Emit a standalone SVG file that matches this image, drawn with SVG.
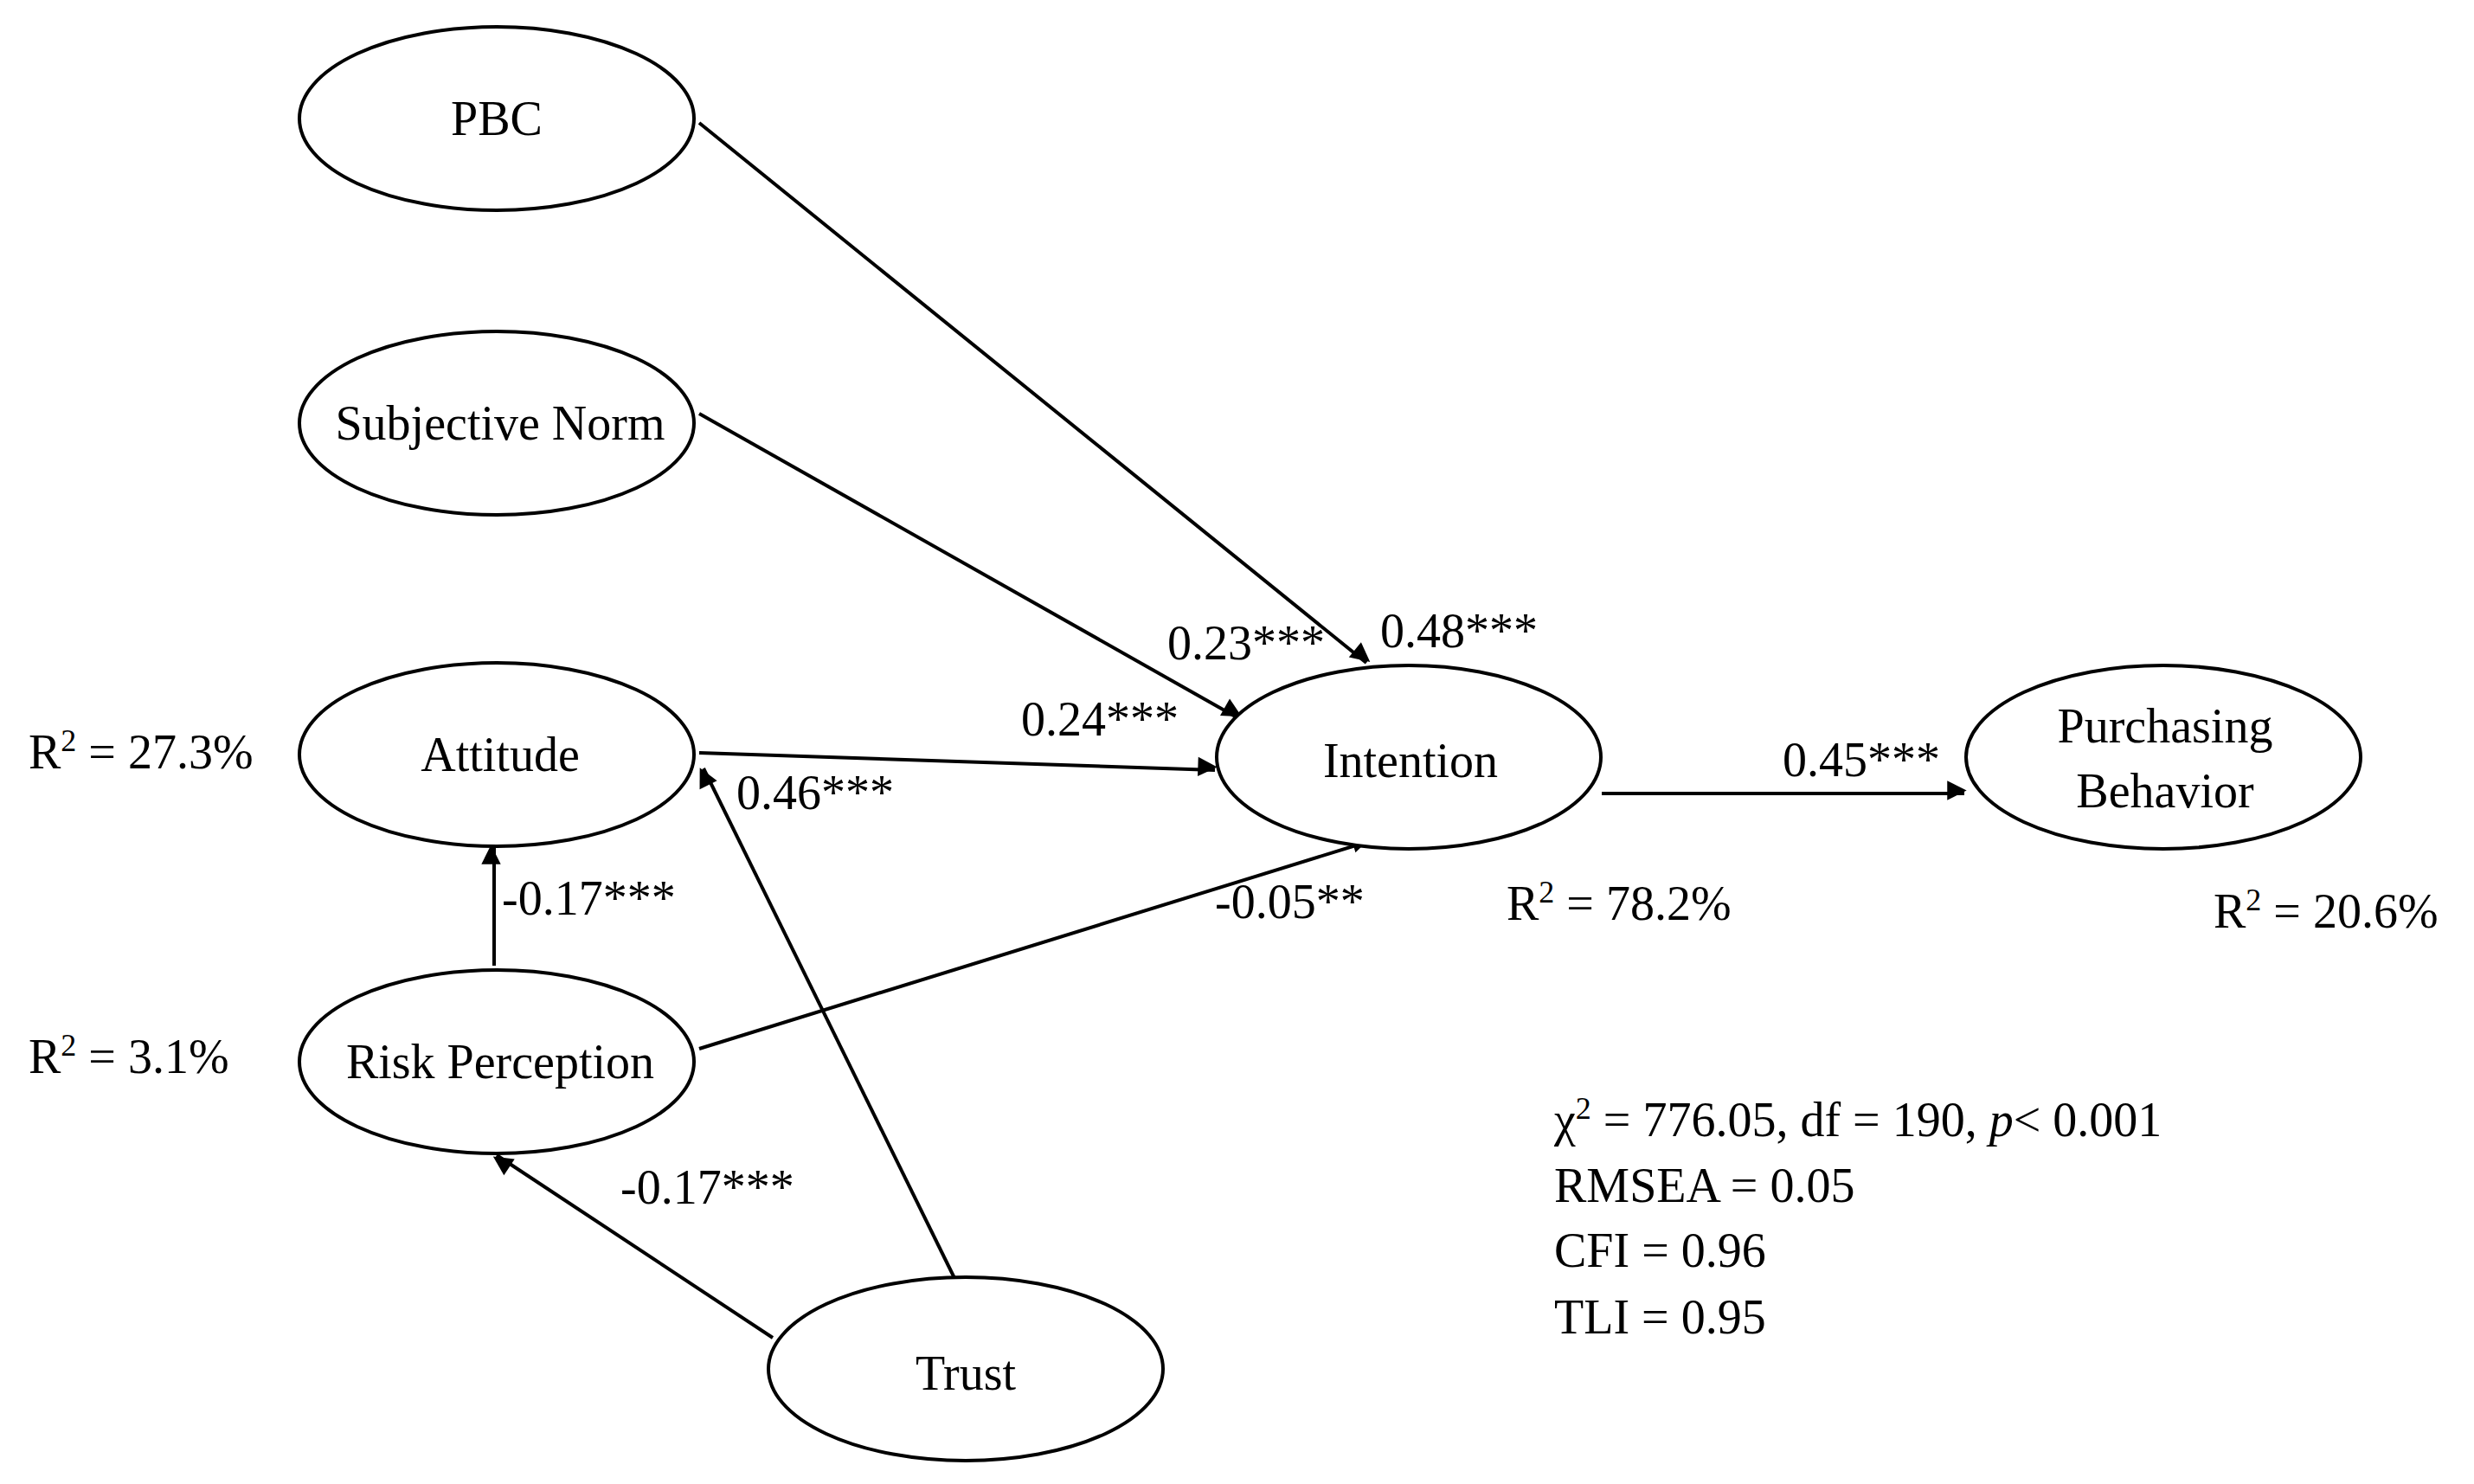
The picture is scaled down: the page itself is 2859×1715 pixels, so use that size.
<svg xmlns="http://www.w3.org/2000/svg" width="2859" height="1715" viewBox="0 0 2859 1715">
<style>
.n{fill:#fff;stroke:#000;stroke-width:4}
.t{font-family:"Liberation Serif",serif;font-size:56px;fill:#000}
.c line{stroke:#000;stroke-width:4;marker-end:url(#a)}
</style>
<defs><marker id="a" viewBox="0 0 10 10" refX="9" refY="5" markerWidth="7" markerHeight="7" orient="auto" markerUnits="userSpaceOnUse" style="overflow:visible"><path d="M0,0 L10,5 L0,10 z" transform="scale(3.2) translate(-6,-5) translate(0,5) translate(0,-5)"/></marker></defs>
<rect width="2859" height="1715" fill="#fff"/>
<g class="c">
<line x1="808" y1="142" x2="1579" y2="766"/>
<line x1="808" y1="478" x2="1431" y2="830"/>
<line x1="808" y1="870" x2="1404" y2="890"/>
<line x1="808" y1="1212" x2="1583" y2="972"/>
<line x1="1851" y1="917" x2="2270" y2="917"/>
<line x1="571" y1="1116" x2="571" y2="979"/>
<line x1="1103" y1="1477" x2="813" y2="888"/>
<line x1="893" y1="1546" x2="574" y2="1335"/>
</g>
<g id="pbc"><ellipse class="n" cx="574" cy="137" rx="228" ry="106"/><text class="t" x="574" y="156" text-anchor="middle">PBC</text></g>
<g id="sn"><ellipse class="n" cx="574" cy="489" rx="228" ry="106"/><text class="t" x="578" y="508" text-anchor="middle">Subjective Norm</text></g>
<g id="att"><ellipse class="n" cx="574" cy="872" rx="228" ry="106"/><text class="t" x="578" y="891" text-anchor="middle">Attitude</text></g>
<g id="rp"><ellipse class="n" cx="574" cy="1227" rx="228" ry="106"/><text class="t" x="578" y="1246" text-anchor="middle">Risk Perception</text></g>
<g id="trust"><ellipse class="n" cx="1116" cy="1582" rx="228" ry="106"/><text class="t" x="1116" y="1606" text-anchor="middle">Trust</text></g>
<g id="int"><ellipse class="n" cx="1628" cy="875" rx="222" ry="106"/><text class="t" x="1630" y="898" text-anchor="middle">Intention</text></g>
<g id="pb"><ellipse class="n" cx="2500" cy="875" rx="228" ry="106"/><text class="t" x="2502" y="858" text-anchor="middle">Purchasing</text><text class="t" x="2502" y="933" text-anchor="middle">Behavior</text></g>
<g class="t">
<text x="1349" y="762">0.23***</text>
<text x="1595" y="748">0.48***</text>
<text x="1180" y="850">0.24***</text>
<text x="851" y="935">0.46***</text>
<text x="2060" y="897">0.45***</text>
<text x="1404" y="1061">-0.05**</text>
<text x="580" y="1057">-0.17***</text>
<text x="717" y="1391">-0.17***</text>
<text x="33" y="888">R<tspan font-size="36" dy="-20">2</tspan><tspan dy="20"> = 27.3%</tspan></text>
<text x="33" y="1240">R<tspan font-size="36" dy="-20">2</tspan><tspan dy="20"> = 3.1%</tspan></text>
<text x="1741" y="1063">R<tspan font-size="36" dy="-20">2</tspan><tspan dy="20"> = 78.2%</tspan></text>
<text x="2558" y="1072">R<tspan font-size="36" dy="-20">2</tspan><tspan dy="20"> = 20.6%</tspan></text>
<text x="1796" y="1313">χ<tspan font-size="36" dy="-20">2</tspan><tspan dy="20"> = 776.05,  df = 190,  </tspan><tspan font-style="italic">p</tspan>&lt; 0.001</text>
<text x="1796" y="1389">RMSEA = 0.05</text>
<text x="1796" y="1464">CFI = 0.96</text>
<text x="1796" y="1541">TLI = 0.95</text>
</g>
</svg>
